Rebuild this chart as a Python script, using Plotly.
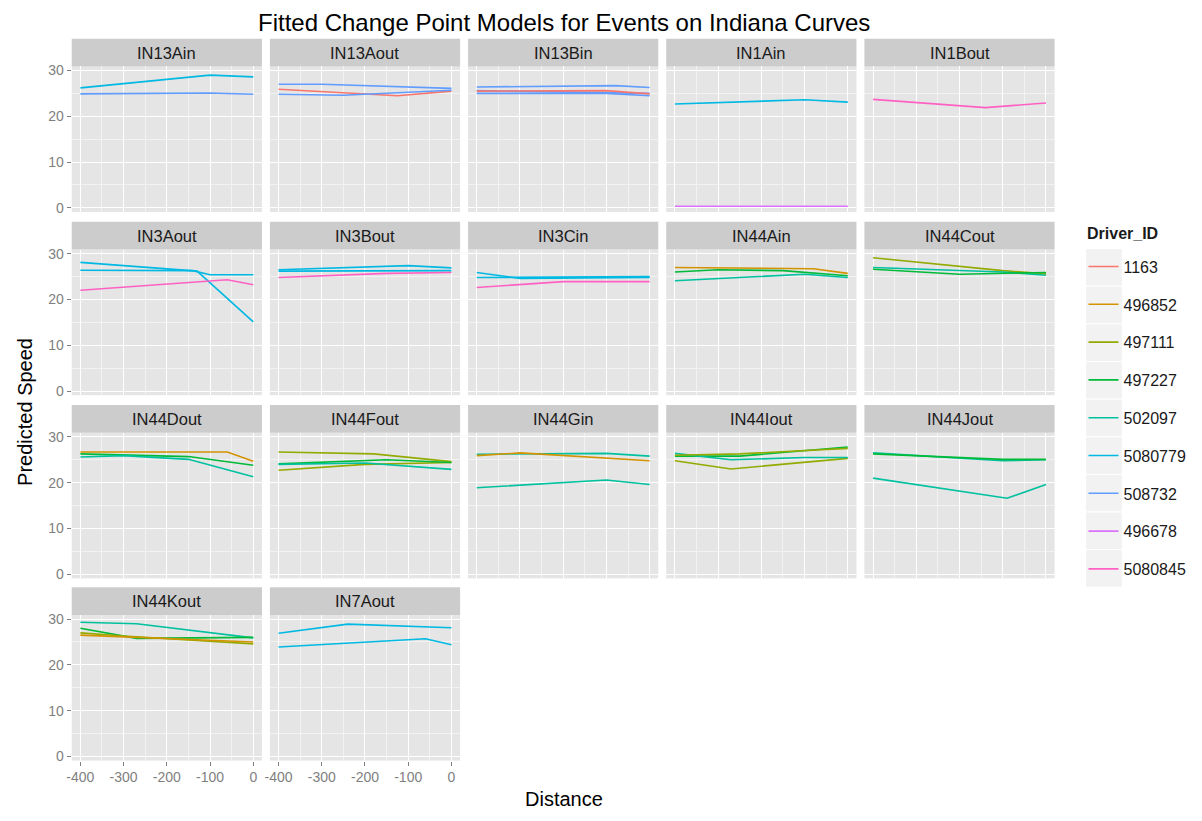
import plotly.graph_objects as go

W, H = 1202, 821
FONT = "Liberation Sans, Arial, Helvetica, sans-serif"

chart_title = "Fitted Change Point Models for Events on Indiana Curves"
x_title = "Distance"
y_title = "Predicted Speed"
legend_title = "Driver_ID"

drivers = ["1163", "496852", "497111", "497227", "502097",
           "5080779", "508732", "496678", "5080845"]
driver_colors = ["#F8766D", "#D39200", "#93AA00", "#00BA38", "#00C19F",
                 "#00B9E3", "#619CFF", "#DB72FB", "#FF61C3"]

panels = ["IN13Ain", "IN13Aout", "IN13Bin", "IN1Ain", "IN1Bout",
          "IN3Aout", "IN3Bout", "IN3Cin", "IN44Ain", "IN44Cout",
          "IN44Dout", "IN44Fout", "IN44Gin", "IN44Iout", "IN44Jout",
          "IN44Kout", "IN7Aout"]

x_ticks = [-400, -300, -200, -100, 0]
x_minor = [-350, -250, -150, -50]
y_ticks = [0, 10, 20, 30]
y_minor = [5, 15, 25]

# (driver, distances, predicted speeds) per panel
IN13Ain = [("5080779", [-400, -100, 0], [26.2, 29.0, 28.6]),
           ("508732", [-400, -100, 0], [24.9, 25.1, 24.8])]
IN13Aout = [("508732", [-400, -300, 0], [27.0, 27.0, 26.1]),
            ("1163", [-400, -125, 0], [25.9, 24.5, 25.5]),
            ("508732", [-400, -250, 0], [24.8, 24.6, 25.7])]
IN13Bin = [("508732", [-400, -80, 0], [26.4, 26.7, 26.3]),
           ("508732", [-400, 0], [25.6, 25.0]),
           ("1163", [-400, -100, 0], [25.5, 25.6, 24.9]),
           ("508732", [-400, -100, 0], [25.0, 25.0, 24.5])]
IN1Ain = [("5080779", [-400, -100, 0], [22.7, 23.6, 23.1]),
          ("496678", [-400, 0], [0.35, 0.35])]
IN1Bout = [("5080845", [-400, -140, 0], [23.7, 21.9, 22.9])]
IN3Aout = [("5080779", [-400, -130, 0], [28.1, 26.2, 15.1]),
           ("5080779", [-400, -140, -100, 0], [26.4, 26.3, 25.4, 25.4]),
           ("5080845", [-400, -60, 0], [22.0, 24.3, 23.2])]
IN3Bout = [("5080779", [-400, -100, 0], [26.5, 27.4, 26.9]),
           ("5080779", [-400, 0], [26.2, 26.3]),
           ("5080845", [-400, -150, 0], [24.8, 25.7, 25.9])]
IN3Cin = [("5080779", [-400, -300, 0], [25.9, 24.6, 24.8]),
          ("5080779", [-400, 0], [24.8, 25.0]),
          ("5080845", [-400, -200, 0], [22.6, 23.9, 23.9])]
IN44Ain = [("496852", [-400, -80, 0], [27.0, 26.7, 25.7]),
           ("497227", [-400, -300, -150, 0], [26.0, 26.5, 26.3, 25.2]),
           ("502097", [-400, -100, 0], [24.1, 25.5, 24.8])]
IN44Cout = [("497111", [-400, -100, 0], [29.1, 26.3, 25.6]),
            ("502097", [-400, -100, 0], [27.0, 26.0, 25.3]),
            ("497227", [-400, -200, 0], [26.6, 25.5, 25.9])]
IN44Dout = [("496852", [-400, -60, 0], [26.7, 26.7, 24.7]),
            ("497227", [-400, -150, 0], [26.3, 25.7, 23.8]),
            ("502097", [-400, -300, -150, 0], [25.6, 25.9, 25.1, 21.3])]
IN44Fout = [("497111", [-400, -180, 0], [26.7, 26.3, 24.6]),
            ("497111", [-400, -200, 0], [22.7, 24.0, 24.4]),
            ("497227", [-400, -150, 0], [24.1, 25.0, 24.4]),
            ("502097", [-400, -200, 0], [24.0, 24.3, 22.9])]
IN44Gin = [("502097", [-400, -100, 0], [26.2, 26.4, 25.8]),
           ("496852", [-400, -300, 0], [25.9, 26.5, 24.8]),
           ("502097", [-400, -100, 0], [18.9, 20.6, 19.6])]
IN44Iout = [("497227", [-400, -250, 0], [25.8, 25.8, 27.8]),
            ("497111", [-400, -270, 0], [24.8, 23.0, 25.3]),
            ("502097", [-400, -270, -100, 0], [26.4, 25.0, 25.5, 25.5]),
            ("497111", [-400, -250, 0], [26.0, 26.3, 27.5])]
IN44Jout = [("502097", [-400, -100, 0], [26.5, 24.8, 25.0]),
            ("497227", [-400, -100, 0], [26.3, 25.1, 25.1]),
            ("502097", [-400, -90, 0], [21.0, 16.6, 19.6])]
IN44Kout = [("502097", [-400, -270, 0], [29.3, 29.0, 25.9]),
            ("497227", [-400, -270, 0], [28.0, 25.8, 26.0]),
            ("497111", [-400, -300, 0], [27.0, 26.3, 24.6]),
            ("496852", [-400, 0], [26.5, 25.0])]
IN7Aout = [("5080779", [-400, -240, 0], [26.9, 28.9, 28.1]),
           ("5080779", [-400, -60, 0], [23.9, 25.7, 24.4])]

panel_lines = {
    "IN13Ain": IN13Ain, "IN13Aout": IN13Aout, "IN13Bin": IN13Bin,
    "IN1Ain": IN1Ain, "IN1Bout": IN1Bout, "IN3Aout": IN3Aout,
    "IN3Bout": IN3Bout, "IN3Cin": IN3Cin, "IN44Ain": IN44Ain,
    "IN44Cout": IN44Cout, "IN44Dout": IN44Dout, "IN44Fout": IN44Fout,
    "IN44Gin": IN44Gin, "IN44Iout": IN44Iout, "IN44Jout": IN44Jout,
    "IN44Kout": IN44Kout, "IN7Aout": IN7Aout,
}

# ---------------- layout geometry (pixels) ----------------
NCOL = 5
col_left = [67, 266, 465, 664, 863]
panel_w = 191
plot_top = [63, 248, 433, 617]
plot_h = 147
strip_h = 28
LW = 1.6

color_of = dict(zip(drivers, driver_colors))

fig = go.Figure()

# legend entries in factor order
for d, c in zip(drivers, driver_colors):
    fig.add_trace(go.Scatter(x=[None], y=[None], mode="lines", name=d,
                             legendgroup=d, showlegend=True,
                             line=dict(color=c, width=LW),
                             xaxis="x", yaxis="y"))

layout = dict(
    width=W, height=H,
    margin=dict(l=0, r=0, t=0, b=0),
    paper_bgcolor="white",
    plot_bgcolor="#E5E5E5",
    font=dict(family=FONT, color="#1A1A1A"),
    showlegend=True,
)

shapes = []
annotations = []

n_panels = len(panels)
for i, name in enumerate(panels):
    r, c = divmod(i, NCOL)
    idx = i + 1
    xa = "x" if idx == 1 else f"x{idx}"
    ya = "y" if idx == 1 else f"y{idx}"
    left = col_left[c]
    top = plot_top[r]
    show_x = r == 3
    show_y = c == 0

    for d, xs, ys in panel_lines[name]:
        fig.add_trace(go.Scatter(x=xs, y=ys, mode="lines", name=d,
                                 legendgroup=d, showlegend=False,
                                 line=dict(color=color_of[d], width=LW),
                                 xaxis=xa, yaxis=ya,
                                 hovertemplate="%{x}, %{y}<extra>" + d + "</extra>"))

    layout["xaxis" if idx == 1 else f"xaxis{idx}"] = dict(
        domain=[left / W, (left + panel_w) / W],
        anchor=ya, range=[-420, 20],
        tickvals=x_ticks, ticktext=[str(v) for v in x_ticks],
        showticklabels=show_x,
        ticks="outside" if show_x else "", ticklen=4, tickwidth=1,
        tickcolor="#7F7F7F",
        tickfont=dict(size=14, color="#7F7F7F", family=FONT),
        showgrid=True, gridcolor="white", gridwidth=1.2,
        minor=dict(tickvals=x_minor, showgrid=True, gridcolor="#F2F2F2",
                   gridwidth=0.6),
        zeroline=False, showline=False, fixedrange=True,
    )
    layout["yaxis" if idx == 1 else f"yaxis{idx}"] = dict(
        domain=[1 - (top + plot_h) / H, 1 - top / H],
        anchor=xa, range=[-0.9, 30.9],
        tickvals=y_ticks, ticktext=[str(v) for v in y_ticks],
        showticklabels=show_y,
        ticks="outside" if show_y else "", ticklen=4, tickwidth=1,
        tickcolor="#7F7F7F",
        tickfont=dict(size=14, color="#7F7F7F", family=FONT),
        showgrid=True, gridcolor="white", gridwidth=1.2,
        minor=dict(tickvals=y_minor, showgrid=True, gridcolor="#F2F2F2",
                   gridwidth=0.6),
        zeroline=False, showline=False, fixedrange=True,
    )

    # facet strip
    shapes.append(dict(type="rect", xref="paper", yref="paper",
                       x0=left / W, x1=(left + panel_w) / W,
                       y0=1 - top / H, y1=1 - (top - strip_h) / H,
                       fillcolor="#CCCCCC", line=dict(width=0), layer="below"))
    annotations.append(dict(text=name, xref="paper", yref="paper",
                            x=(left + panel_w / 2) / W,
                            y=1 - (top - strip_h / 2) / H,
                            xanchor="center", yanchor="middle",
                            showarrow=False,
                            font=dict(size=16.5, color="#1A1A1A", family=FONT)))

# legend key backgrounds
leg_x0, leg_top, key_w, key_h = 1085, 247, 37, 38.0
for k in range(len(drivers)):
    shapes.append(dict(type="rect", xref="paper", yref="paper",
                       x0=leg_x0 / W, x1=(leg_x0 + key_w) / W,
                       y0=1 - (leg_top + (k + 1) * key_h) / H,
                       y1=1 - (leg_top + k * key_h) / H,
                       fillcolor="#F2F2F2", line=dict(color="white", width=1),
                       layer="below"))

annotations.append(dict(text="<b>" + legend_title + "</b>", xref="paper",
                        yref="paper", x=1085 / W, y=1 - 232 / H,
                        xanchor="left", yanchor="middle", showarrow=False,
                        font=dict(size=16, color="#1A1A1A", family=FONT)))
annotations.append(dict(text=chart_title, xref="paper", yref="paper",
                        x=561 / W, y=1 - 19 / H, xanchor="center",
                        yanchor="middle", showarrow=False,
                        font=dict(size=24, color="black", family=FONT)))
annotations.append(dict(text=x_title, xref="paper", yref="paper",
                        x=561 / W, y=1 - 803 / H, xanchor="center",
                        yanchor="middle", showarrow=False,
                        font=dict(size=20, color="black", family=FONT)))
annotations.append(dict(text=y_title, xref="paper", yref="paper",
                        x=20 / W, y=1 - 412 / H, xanchor="center",
                        yanchor="middle", showarrow=False, textangle=-90,
                        font=dict(size=20, color="black", family=FONT)))

layout["shapes"] = shapes
layout["annotations"] = annotations
layout["legend"] = dict(
    x=1083 / W, y=1 - 248 / H, xanchor="left", yanchor="top",
    font=dict(size=16, color="#1A1A1A", family=FONT),
    bgcolor="rgba(0,0,0,0)", borderwidth=0,
    traceorder="grouped", tracegroupgap=14,
    itemwidth=30,
)

fig.update_layout(**layout)
fig.write_html("out.html")
